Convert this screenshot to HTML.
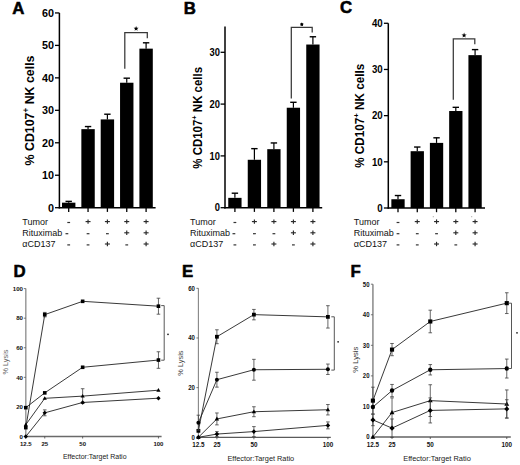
<!DOCTYPE html>
<html><head><meta charset="utf-8"><style>
html,body{margin:0;padding:0;background:#fff;}
svg{display:block;font-family:"Liberation Sans", sans-serif;}
</style></head><body>
<svg width="520" height="465" viewBox="0 0 520 465">
<rect width="520" height="465" fill="#fff"/>
<text x="12.30" y="13.60" font-size="16.8" font-weight="bold" text-anchor="start" fill="#000" stroke="#000" stroke-width="0.55">A</text>
<line x1="59.40" y1="12.94" x2="59.40" y2="208.40" stroke="#000" stroke-width="1.5" />
<line x1="55.00" y1="207.70" x2="59.40" y2="207.70" stroke="#000" stroke-width="1.3" />
<text transform="translate(54.00,211.53) scale(1.0,1)" font-size="10.8" font-weight="bold" text-anchor="end">0</text>
<line x1="55.00" y1="175.24" x2="59.40" y2="175.24" stroke="#000" stroke-width="1.3" />
<text transform="translate(54.00,179.07) scale(1.0,1)" font-size="10.8" font-weight="bold" text-anchor="end">10</text>
<line x1="55.00" y1="142.78" x2="59.40" y2="142.78" stroke="#000" stroke-width="1.3" />
<text transform="translate(54.00,146.61) scale(1.0,1)" font-size="10.8" font-weight="bold" text-anchor="end">20</text>
<line x1="55.00" y1="110.32" x2="59.40" y2="110.32" stroke="#000" stroke-width="1.3" />
<text transform="translate(54.00,114.15) scale(1.0,1)" font-size="10.8" font-weight="bold" text-anchor="end">30</text>
<line x1="55.00" y1="77.86" x2="59.40" y2="77.86" stroke="#000" stroke-width="1.3" />
<text transform="translate(54.00,81.69) scale(1.0,1)" font-size="10.8" font-weight="bold" text-anchor="end">40</text>
<line x1="55.00" y1="45.40" x2="59.40" y2="45.40" stroke="#000" stroke-width="1.3" />
<text transform="translate(54.00,49.23) scale(1.0,1)" font-size="10.8" font-weight="bold" text-anchor="end">50</text>
<line x1="55.00" y1="12.94" x2="59.40" y2="12.94" stroke="#000" stroke-width="1.3" />
<text transform="translate(54.00,16.77) scale(1.0,1)" font-size="10.8" font-weight="bold" text-anchor="end">60</text>
<line x1="58.70" y1="207.70" x2="155.60" y2="207.70" stroke="#000" stroke-width="1.5" />
<line x1="68.70" y1="201.37" x2="68.70" y2="202.67" stroke="#000" stroke-width="1.2" />
<line x1="65.50" y1="201.37" x2="71.90" y2="201.37" stroke="#000" stroke-width="1.4" />
<rect x="62.00" y="202.67" width="13.40" height="5.03" fill="#000"/>
<line x1="68.70" y1="207.70" x2="68.70" y2="211.90" stroke="#000" stroke-width="1.3" />
<line x1="88.05" y1="126.55" x2="88.05" y2="129.15" stroke="#000" stroke-width="1.2" />
<line x1="84.85" y1="126.55" x2="91.25" y2="126.55" stroke="#000" stroke-width="1.4" />
<rect x="81.35" y="129.15" width="13.40" height="78.55" fill="#000"/>
<line x1="88.05" y1="207.70" x2="88.05" y2="211.90" stroke="#000" stroke-width="1.3" />
<line x1="107.40" y1="114.22" x2="107.40" y2="119.41" stroke="#000" stroke-width="1.2" />
<line x1="104.20" y1="114.22" x2="110.60" y2="114.22" stroke="#000" stroke-width="1.4" />
<rect x="100.70" y="119.41" width="13.40" height="88.29" fill="#000"/>
<line x1="107.40" y1="207.70" x2="107.40" y2="211.90" stroke="#000" stroke-width="1.3" />
<line x1="126.75" y1="78.18" x2="126.75" y2="82.73" stroke="#000" stroke-width="1.2" />
<line x1="123.55" y1="78.18" x2="129.95" y2="78.18" stroke="#000" stroke-width="1.4" />
<rect x="120.05" y="82.73" width="13.40" height="124.97" fill="#000"/>
<line x1="126.75" y1="207.70" x2="126.75" y2="211.90" stroke="#000" stroke-width="1.3" />
<line x1="146.10" y1="42.80" x2="146.10" y2="48.65" stroke="#000" stroke-width="1.2" />
<line x1="142.90" y1="42.80" x2="149.30" y2="42.80" stroke="#000" stroke-width="1.4" />
<rect x="139.40" y="48.65" width="13.40" height="159.05" fill="#000"/>
<line x1="146.10" y1="207.70" x2="146.10" y2="211.90" stroke="#000" stroke-width="1.3" />
<polyline points="124.8,68.7 124.8,32.6 147.3,32.6 147.3,38.3" fill="none" stroke="#383838" stroke-width="1.25"/>
<polygon points="136.10,26.00 136.75,27.71 138.57,27.80 137.15,28.94 137.63,30.70 136.10,29.70 134.57,30.70 135.05,28.94 133.63,27.80 135.45,27.71" fill="#000"/>
<text transform="translate(33.6,110.5) rotate(-90)" font-size="13.0" font-weight="bold" text-anchor="middle" textLength="110.0" lengthAdjust="spacingAndGlyphs">% CD107<tspan font-size="8.45" dy="-4.94">+</tspan><tspan dy="4.94"> NK cells</tspan></text>
<text x="22.30" y="224.70" font-size="9" font-weight="normal" text-anchor="start" fill="#111" >Tumor</text>
<line x1="67.30" y1="222.50" x2="70.10" y2="222.50" stroke="#333" stroke-width="1.2" />
<line x1="85.55" y1="221.60" x2="90.55" y2="221.60" stroke="#2a2a2a" stroke-width="1.15" />
<line x1="88.05" y1="219.40" x2="88.05" y2="223.80" stroke="#2a2a2a" stroke-width="1.15" />
<line x1="104.90" y1="221.60" x2="109.90" y2="221.60" stroke="#2a2a2a" stroke-width="1.15" />
<line x1="107.40" y1="219.40" x2="107.40" y2="223.80" stroke="#2a2a2a" stroke-width="1.15" />
<line x1="124.25" y1="221.60" x2="129.25" y2="221.60" stroke="#2a2a2a" stroke-width="1.15" />
<line x1="126.75" y1="219.40" x2="126.75" y2="223.80" stroke="#2a2a2a" stroke-width="1.15" />
<line x1="143.60" y1="221.60" x2="148.60" y2="221.60" stroke="#2a2a2a" stroke-width="1.15" />
<line x1="146.10" y1="219.40" x2="146.10" y2="223.80" stroke="#2a2a2a" stroke-width="1.15" />
<text x="22.30" y="235.80" font-size="9" font-weight="normal" text-anchor="start" fill="#111" >Rituximab</text>
<line x1="65.50" y1="233.70" x2="68.30" y2="233.70" stroke="#333" stroke-width="1.2" />
<line x1="86.65" y1="233.70" x2="89.45" y2="233.70" stroke="#333" stroke-width="1.2" />
<line x1="106.00" y1="233.70" x2="108.80" y2="233.70" stroke="#333" stroke-width="1.2" />
<line x1="124.25" y1="232.80" x2="129.25" y2="232.80" stroke="#2a2a2a" stroke-width="1.15" />
<line x1="126.75" y1="230.60" x2="126.75" y2="235.00" stroke="#2a2a2a" stroke-width="1.15" />
<line x1="143.60" y1="232.80" x2="148.60" y2="232.80" stroke="#2a2a2a" stroke-width="1.15" />
<line x1="146.10" y1="230.60" x2="146.10" y2="235.00" stroke="#2a2a2a" stroke-width="1.15" />
<text x="22.30" y="246.50" font-size="9" font-weight="normal" text-anchor="start" fill="#111" >&#945;CD137</text>
<line x1="67.30" y1="244.90" x2="70.10" y2="244.90" stroke="#333" stroke-width="1.2" />
<line x1="86.65" y1="244.90" x2="89.45" y2="244.90" stroke="#333" stroke-width="1.2" />
<line x1="104.90" y1="244.00" x2="109.90" y2="244.00" stroke="#2a2a2a" stroke-width="1.15" />
<line x1="107.40" y1="241.80" x2="107.40" y2="246.20" stroke="#2a2a2a" stroke-width="1.15" />
<line x1="125.35" y1="244.90" x2="128.15" y2="244.90" stroke="#333" stroke-width="1.2" />
<line x1="143.60" y1="244.00" x2="148.60" y2="244.00" stroke="#2a2a2a" stroke-width="1.15" />
<line x1="146.10" y1="241.80" x2="146.10" y2="246.20" stroke="#2a2a2a" stroke-width="1.15" />
<text x="183.80" y="13.50" font-size="16.8" font-weight="bold" text-anchor="start" fill="#000" stroke="#000" stroke-width="0.55">B</text>
<line x1="225.00" y1="26.40" x2="225.00" y2="208.40" stroke="#000" stroke-width="1.5" />
<line x1="220.60" y1="207.70" x2="225.00" y2="207.70" stroke="#000" stroke-width="1.3" />
<text transform="translate(219.90,211.39) scale(0.9,1)" font-size="10.4" font-weight="bold" text-anchor="end">0</text>
<line x1="220.60" y1="155.90" x2="225.00" y2="155.90" stroke="#000" stroke-width="1.3" />
<text transform="translate(219.90,159.59) scale(0.9,1)" font-size="10.4" font-weight="bold" text-anchor="end">10</text>
<line x1="220.60" y1="104.10" x2="225.00" y2="104.10" stroke="#000" stroke-width="1.3" />
<text transform="translate(219.90,107.79) scale(0.9,1)" font-size="10.4" font-weight="bold" text-anchor="end">20</text>
<line x1="220.60" y1="52.30" x2="225.00" y2="52.30" stroke="#000" stroke-width="1.3" />
<text transform="translate(219.90,55.99) scale(0.9,1)" font-size="10.4" font-weight="bold" text-anchor="end">30</text>
<line x1="224.30" y1="207.70" x2="322.20" y2="207.70" stroke="#000" stroke-width="1.5" />
<line x1="234.90" y1="193.20" x2="234.90" y2="197.86" stroke="#000" stroke-width="1.2" />
<line x1="231.70" y1="193.20" x2="238.10" y2="193.20" stroke="#000" stroke-width="1.4" />
<rect x="228.25" y="197.86" width="13.30" height="9.84" fill="#000"/>
<line x1="234.90" y1="207.70" x2="234.90" y2="211.90" stroke="#000" stroke-width="1.3" />
<line x1="254.40" y1="148.65" x2="254.40" y2="159.78" stroke="#000" stroke-width="1.2" />
<line x1="251.20" y1="148.65" x2="257.60" y2="148.65" stroke="#000" stroke-width="1.4" />
<rect x="247.75" y="159.78" width="13.30" height="47.91" fill="#000"/>
<line x1="254.40" y1="207.70" x2="254.40" y2="211.90" stroke="#000" stroke-width="1.3" />
<line x1="273.90" y1="142.95" x2="273.90" y2="149.17" stroke="#000" stroke-width="1.2" />
<line x1="270.70" y1="142.95" x2="277.10" y2="142.95" stroke="#000" stroke-width="1.4" />
<rect x="267.25" y="149.17" width="13.30" height="58.53" fill="#000"/>
<line x1="273.90" y1="207.70" x2="273.90" y2="211.90" stroke="#000" stroke-width="1.3" />
<line x1="293.40" y1="102.29" x2="293.40" y2="107.73" stroke="#000" stroke-width="1.2" />
<line x1="290.20" y1="102.29" x2="296.60" y2="102.29" stroke="#000" stroke-width="1.4" />
<rect x="286.75" y="107.73" width="13.30" height="99.97" fill="#000"/>
<line x1="293.40" y1="207.70" x2="293.40" y2="211.90" stroke="#000" stroke-width="1.3" />
<line x1="312.90" y1="36.76" x2="312.90" y2="44.53" stroke="#000" stroke-width="1.2" />
<line x1="309.70" y1="36.76" x2="316.10" y2="36.76" stroke="#000" stroke-width="1.4" />
<rect x="306.25" y="44.53" width="13.30" height="163.17" fill="#000"/>
<line x1="312.90" y1="207.70" x2="312.90" y2="211.90" stroke="#000" stroke-width="1.3" />
<polyline points="291.3,98.5 291.3,27.4 312.2,27.4 312.2,32.5" fill="none" stroke="#383838" stroke-width="1.25"/>
<polygon points="301.80,22.50 302.56,23.35 303.61,23.81 303.04,24.80 302.92,25.94 301.80,25.70 300.68,25.94 300.56,24.80 299.99,23.81 301.04,23.35" fill="#000"/>
<text transform="translate(201.7,117.8) rotate(-90)" font-size="12.3" font-weight="bold" text-anchor="middle" textLength="101.7" lengthAdjust="spacingAndGlyphs">% CD107<tspan font-size="8.00" dy="-4.67">+</tspan><tspan dy="4.67"> NK cells</tspan></text>
<text x="190.00" y="224.70" font-size="9" font-weight="normal" text-anchor="start" fill="#111" >Tumor</text>
<line x1="233.50" y1="222.50" x2="236.30" y2="222.50" stroke="#333" stroke-width="1.2" />
<line x1="251.90" y1="221.60" x2="256.90" y2="221.60" stroke="#2a2a2a" stroke-width="1.15" />
<line x1="254.40" y1="219.40" x2="254.40" y2="223.80" stroke="#2a2a2a" stroke-width="1.15" />
<line x1="271.40" y1="221.60" x2="276.40" y2="221.60" stroke="#2a2a2a" stroke-width="1.15" />
<line x1="273.90" y1="219.40" x2="273.90" y2="223.80" stroke="#2a2a2a" stroke-width="1.15" />
<line x1="290.90" y1="221.60" x2="295.90" y2="221.60" stroke="#2a2a2a" stroke-width="1.15" />
<line x1="293.40" y1="219.40" x2="293.40" y2="223.80" stroke="#2a2a2a" stroke-width="1.15" />
<line x1="310.40" y1="221.60" x2="315.40" y2="221.60" stroke="#2a2a2a" stroke-width="1.15" />
<line x1="312.90" y1="219.40" x2="312.90" y2="223.80" stroke="#2a2a2a" stroke-width="1.15" />
<text x="190.00" y="235.80" font-size="9" font-weight="normal" text-anchor="start" fill="#111" >Rituximab</text>
<line x1="232.50" y1="233.70" x2="235.30" y2="233.70" stroke="#333" stroke-width="1.2" />
<line x1="253.00" y1="233.70" x2="255.80" y2="233.70" stroke="#333" stroke-width="1.2" />
<line x1="272.50" y1="233.70" x2="275.30" y2="233.70" stroke="#333" stroke-width="1.2" />
<line x1="290.90" y1="232.80" x2="295.90" y2="232.80" stroke="#2a2a2a" stroke-width="1.15" />
<line x1="293.40" y1="230.60" x2="293.40" y2="235.00" stroke="#2a2a2a" stroke-width="1.15" />
<line x1="310.40" y1="232.80" x2="315.40" y2="232.80" stroke="#2a2a2a" stroke-width="1.15" />
<line x1="312.90" y1="230.60" x2="312.90" y2="235.00" stroke="#2a2a2a" stroke-width="1.15" />
<text x="190.00" y="246.50" font-size="9" font-weight="normal" text-anchor="start" fill="#111" >&#945;CD137</text>
<line x1="233.50" y1="244.90" x2="236.30" y2="244.90" stroke="#333" stroke-width="1.2" />
<line x1="253.00" y1="244.90" x2="255.80" y2="244.90" stroke="#333" stroke-width="1.2" />
<line x1="271.40" y1="244.00" x2="276.40" y2="244.00" stroke="#2a2a2a" stroke-width="1.15" />
<line x1="273.90" y1="241.80" x2="273.90" y2="246.20" stroke="#2a2a2a" stroke-width="1.15" />
<line x1="292.00" y1="244.90" x2="294.80" y2="244.90" stroke="#333" stroke-width="1.2" />
<line x1="310.40" y1="244.00" x2="315.40" y2="244.00" stroke="#2a2a2a" stroke-width="1.15" />
<line x1="312.90" y1="241.80" x2="312.90" y2="246.20" stroke="#2a2a2a" stroke-width="1.15" />
<text x="340.10" y="13.10" font-size="16.8" font-weight="bold" text-anchor="start" fill="#000" stroke="#000" stroke-width="0.55">C</text>
<line x1="388.30" y1="23.28" x2="388.30" y2="208.70" stroke="#000" stroke-width="1.5" />
<line x1="383.90" y1="208.00" x2="388.30" y2="208.00" stroke="#000" stroke-width="1.3" />
<text transform="translate(382.70,211.69) scale(0.93,1)" font-size="10.4" font-weight="bold" text-anchor="end">0</text>
<line x1="383.90" y1="161.82" x2="388.30" y2="161.82" stroke="#000" stroke-width="1.3" />
<text transform="translate(382.70,165.51) scale(0.93,1)" font-size="10.4" font-weight="bold" text-anchor="end">10</text>
<line x1="383.90" y1="115.64" x2="388.30" y2="115.64" stroke="#000" stroke-width="1.3" />
<text transform="translate(382.70,119.33) scale(0.93,1)" font-size="10.4" font-weight="bold" text-anchor="end">20</text>
<line x1="383.90" y1="69.46" x2="388.30" y2="69.46" stroke="#000" stroke-width="1.3" />
<text transform="translate(382.70,73.15) scale(0.93,1)" font-size="10.4" font-weight="bold" text-anchor="end">30</text>
<line x1="383.90" y1="23.28" x2="388.30" y2="23.28" stroke="#000" stroke-width="1.3" />
<text transform="translate(382.70,26.97) scale(0.93,1)" font-size="10.4" font-weight="bold" text-anchor="end">40</text>
<line x1="387.60" y1="208.00" x2="485.00" y2="208.00" stroke="#000" stroke-width="1.5" />
<line x1="398.00" y1="195.53" x2="398.00" y2="199.23" stroke="#000" stroke-width="1.2" />
<line x1="394.80" y1="195.53" x2="401.20" y2="195.53" stroke="#000" stroke-width="1.4" />
<rect x="391.35" y="199.23" width="13.30" height="8.77" fill="#000"/>
<line x1="398.00" y1="208.00" x2="398.00" y2="212.20" stroke="#000" stroke-width="1.3" />
<line x1="417.27" y1="147.04" x2="417.27" y2="151.20" stroke="#000" stroke-width="1.2" />
<line x1="414.07" y1="147.04" x2="420.47" y2="147.04" stroke="#000" stroke-width="1.4" />
<rect x="410.62" y="151.20" width="13.30" height="56.80" fill="#000"/>
<line x1="417.27" y1="208.00" x2="417.27" y2="212.20" stroke="#000" stroke-width="1.3" />
<line x1="436.54" y1="137.81" x2="436.54" y2="142.89" stroke="#000" stroke-width="1.2" />
<line x1="433.34" y1="137.81" x2="439.74" y2="137.81" stroke="#000" stroke-width="1.4" />
<rect x="429.89" y="142.89" width="13.30" height="65.11" fill="#000"/>
<line x1="436.54" y1="208.00" x2="436.54" y2="212.20" stroke="#000" stroke-width="1.3" />
<line x1="455.81" y1="107.33" x2="455.81" y2="111.02" stroke="#000" stroke-width="1.2" />
<line x1="452.61" y1="107.33" x2="459.01" y2="107.33" stroke="#000" stroke-width="1.4" />
<rect x="449.16" y="111.02" width="13.30" height="96.98" fill="#000"/>
<line x1="455.81" y1="208.00" x2="455.81" y2="212.20" stroke="#000" stroke-width="1.3" />
<line x1="475.08" y1="49.60" x2="475.08" y2="55.14" stroke="#000" stroke-width="1.2" />
<line x1="471.88" y1="49.60" x2="478.28" y2="49.60" stroke="#000" stroke-width="1.4" />
<rect x="468.43" y="55.14" width="13.30" height="152.86" fill="#000"/>
<line x1="475.08" y1="208.00" x2="475.08" y2="212.20" stroke="#000" stroke-width="1.3" />
<polyline points="453.3,99.8 453.3,38.9 474.8,38.9 474.8,44.2" fill="none" stroke="#383838" stroke-width="1.25"/>
<polygon points="464.10,32.60 464.75,34.41 466.67,34.47 465.15,35.64 465.69,37.48 464.10,36.40 462.51,37.48 463.05,35.64 461.53,34.47 463.45,34.41" fill="#000"/>
<text transform="translate(363.7,115.8) rotate(-90)" font-size="12.0" font-weight="bold" text-anchor="middle" textLength="104.0" lengthAdjust="spacingAndGlyphs">% CD107<tspan font-size="7.80" dy="-4.56">+</tspan><tspan dy="4.56"> NK cells</tspan></text>
<text x="353.80" y="224.70" font-size="9" font-weight="normal" text-anchor="start" fill="#111" >Tumor</text>
<line x1="396.60" y1="222.50" x2="399.40" y2="222.50" stroke="#333" stroke-width="1.2" />
<line x1="414.77" y1="221.60" x2="419.77" y2="221.60" stroke="#2a2a2a" stroke-width="1.15" />
<line x1="417.27" y1="219.40" x2="417.27" y2="223.80" stroke="#2a2a2a" stroke-width="1.15" />
<line x1="434.04" y1="221.60" x2="439.04" y2="221.60" stroke="#2a2a2a" stroke-width="1.15" />
<line x1="436.54" y1="219.40" x2="436.54" y2="223.80" stroke="#2a2a2a" stroke-width="1.15" />
<line x1="453.31" y1="221.60" x2="458.31" y2="221.60" stroke="#2a2a2a" stroke-width="1.15" />
<line x1="455.81" y1="219.40" x2="455.81" y2="223.80" stroke="#2a2a2a" stroke-width="1.15" />
<line x1="472.58" y1="221.60" x2="477.58" y2="221.60" stroke="#2a2a2a" stroke-width="1.15" />
<line x1="475.08" y1="219.40" x2="475.08" y2="223.80" stroke="#2a2a2a" stroke-width="1.15" />
<text x="353.80" y="235.80" font-size="9" font-weight="normal" text-anchor="start" fill="#111" >Rituximab</text>
<line x1="396.60" y1="233.70" x2="399.40" y2="233.70" stroke="#333" stroke-width="1.2" />
<line x1="415.87" y1="233.70" x2="418.67" y2="233.70" stroke="#333" stroke-width="1.2" />
<line x1="435.14" y1="233.70" x2="437.94" y2="233.70" stroke="#333" stroke-width="1.2" />
<line x1="453.31" y1="232.80" x2="458.31" y2="232.80" stroke="#2a2a2a" stroke-width="1.15" />
<line x1="455.81" y1="230.60" x2="455.81" y2="235.00" stroke="#2a2a2a" stroke-width="1.15" />
<line x1="472.58" y1="232.80" x2="477.58" y2="232.80" stroke="#2a2a2a" stroke-width="1.15" />
<line x1="475.08" y1="230.60" x2="475.08" y2="235.00" stroke="#2a2a2a" stroke-width="1.15" />
<text x="353.80" y="246.50" font-size="9" font-weight="normal" text-anchor="start" fill="#111" >&#945;CD137</text>
<line x1="396.60" y1="244.90" x2="399.40" y2="244.90" stroke="#333" stroke-width="1.2" />
<line x1="415.87" y1="244.90" x2="418.67" y2="244.90" stroke="#333" stroke-width="1.2" />
<line x1="434.04" y1="244.00" x2="439.04" y2="244.00" stroke="#2a2a2a" stroke-width="1.15" />
<line x1="436.54" y1="241.80" x2="436.54" y2="246.20" stroke="#2a2a2a" stroke-width="1.15" />
<line x1="454.41" y1="244.90" x2="457.21" y2="244.90" stroke="#333" stroke-width="1.2" />
<line x1="472.58" y1="244.00" x2="477.58" y2="244.00" stroke="#2a2a2a" stroke-width="1.15" />
<line x1="475.08" y1="241.80" x2="475.08" y2="246.20" stroke="#2a2a2a" stroke-width="1.15" />
<circle cx="433.3" cy="216.7" r="0.6" fill="#aaa"/>
<circle cx="471.7" cy="216.7" r="0.6" fill="#aaa"/>
<text x="13.40" y="276.50" font-size="16.8" font-weight="bold" text-anchor="start" fill="#000" stroke="#000" stroke-width="0.55">D</text>
<line x1="25.80" y1="288.60" x2="25.80" y2="436.50" stroke="#9a9a9a" stroke-width="1.5" />
<line x1="23.80" y1="436.50" x2="25.80" y2="436.50" stroke="#555" stroke-width="0.8" />
<text transform="translate(23.00,438.70) scale(1.0,1)" font-size="6.1" font-weight="bold" text-anchor="end" fill="#111">0</text>
<line x1="23.80" y1="406.92" x2="25.80" y2="406.92" stroke="#555" stroke-width="0.8" />
<text transform="translate(23.00,409.12) scale(1.0,1)" font-size="6.1" font-weight="bold" text-anchor="end" fill="#111">20</text>
<line x1="23.80" y1="377.34" x2="25.80" y2="377.34" stroke="#555" stroke-width="0.8" />
<text transform="translate(23.00,379.54) scale(1.0,1)" font-size="6.1" font-weight="bold" text-anchor="end" fill="#111">40</text>
<line x1="23.80" y1="347.76" x2="25.80" y2="347.76" stroke="#555" stroke-width="0.8" />
<text transform="translate(23.00,349.96) scale(1.0,1)" font-size="6.1" font-weight="bold" text-anchor="end" fill="#111">60</text>
<line x1="23.80" y1="318.18" x2="25.80" y2="318.18" stroke="#555" stroke-width="0.8" />
<text transform="translate(23.00,320.38) scale(1.0,1)" font-size="6.1" font-weight="bold" text-anchor="end" fill="#111">80</text>
<line x1="23.80" y1="288.60" x2="25.80" y2="288.60" stroke="#555" stroke-width="0.8" />
<text transform="translate(23.00,290.80) scale(1.0,1)" font-size="6.1" font-weight="bold" text-anchor="end" fill="#111">100</text>
<line x1="25.80" y1="436.50" x2="161.60" y2="436.50" stroke="#6a6a6a" stroke-width="1.4" />
<line x1="25.80" y1="436.50" x2="25.80" y2="438.50" stroke="#444" stroke-width="0.8" />
<text x="25.80" y="445.50" font-size="6.0" font-weight="bold" text-anchor="middle" fill="#111" >12.5</text>
<line x1="44.75" y1="436.50" x2="44.75" y2="438.50" stroke="#444" stroke-width="0.8" />
<text x="44.75" y="445.50" font-size="6.0" font-weight="bold" text-anchor="middle" fill="#111" >25</text>
<line x1="82.65" y1="436.50" x2="82.65" y2="438.50" stroke="#444" stroke-width="0.8" />
<text x="82.65" y="445.50" font-size="6.0" font-weight="bold" text-anchor="middle" fill="#111" >50</text>
<line x1="158.45" y1="436.50" x2="158.45" y2="438.50" stroke="#444" stroke-width="0.8" />
<text x="158.45" y="445.50" font-size="6.0" font-weight="bold" text-anchor="middle" fill="#111" >100</text>
<polyline points="25.80,427.63 44.75,314.63 82.65,301.32 158.45,306.20" fill="none" stroke="#222" stroke-width="0.9"/>
<rect x="24.00" y="425.83" width="3.60" height="3.60" fill="#000"/>
<line x1="44.75" y1="312.41" x2="44.75" y2="316.85" stroke="#404040" stroke-width="0.8" />
<line x1="42.95" y1="312.41" x2="46.55" y2="312.41" stroke="#404040" stroke-width="0.8" />
<line x1="42.95" y1="316.85" x2="46.55" y2="316.85" stroke="#404040" stroke-width="0.8" />
<rect x="42.95" y="312.83" width="3.60" height="3.60" fill="#000"/>
<rect x="80.85" y="299.52" width="3.60" height="3.60" fill="#000"/>
<line x1="158.45" y1="298.21" x2="158.45" y2="314.19" stroke="#404040" stroke-width="0.8" />
<line x1="156.65" y1="298.21" x2="160.25" y2="298.21" stroke="#404040" stroke-width="0.8" />
<line x1="156.65" y1="314.19" x2="160.25" y2="314.19" stroke="#404040" stroke-width="0.8" />
<rect x="156.65" y="304.40" width="3.60" height="3.60" fill="#000"/>
<polyline points="25.80,407.66 44.75,392.87 82.65,367.28 158.45,360.04" fill="none" stroke="#222" stroke-width="0.9"/>
<rect x="24.00" y="405.86" width="3.60" height="3.60" fill="#000"/>
<rect x="42.95" y="391.07" width="3.60" height="3.60" fill="#000"/>
<rect x="80.85" y="365.48" width="3.60" height="3.60" fill="#000"/>
<line x1="158.45" y1="351.75" x2="158.45" y2="368.32" stroke="#404040" stroke-width="0.8" />
<line x1="156.65" y1="351.75" x2="160.25" y2="351.75" stroke="#404040" stroke-width="0.8" />
<line x1="156.65" y1="368.32" x2="160.25" y2="368.32" stroke="#404040" stroke-width="0.8" />
<rect x="156.65" y="358.24" width="3.60" height="3.60" fill="#000"/>
<polyline points="25.80,424.67 44.75,398.34 82.65,396.12 158.45,390.21" fill="none" stroke="#222" stroke-width="0.9"/>
<polygon points="25.80,422.47 27.90,426.17 23.70,426.17" fill="#000"/>
<polygon points="44.75,396.14 46.85,399.84 42.65,399.84" fill="#000"/>
<line x1="82.65" y1="388.73" x2="82.65" y2="403.52" stroke="#404040" stroke-width="0.8" />
<line x1="80.85" y1="388.73" x2="84.45" y2="388.73" stroke="#404040" stroke-width="0.8" />
<line x1="80.85" y1="403.52" x2="84.45" y2="403.52" stroke="#404040" stroke-width="0.8" />
<polygon points="82.65,393.92 84.75,397.62 80.55,397.62" fill="#000"/>
<polygon points="158.45,388.01 160.55,391.71 156.35,391.71" fill="#000"/>
<polyline points="25.80,436.50 44.75,412.84 82.65,402.48 158.45,398.19" fill="none" stroke="#222" stroke-width="0.9"/>
<polygon points="25.80,434.30 28.00,436.50 25.80,438.70 23.60,436.50" fill="#000"/>
<line x1="44.75" y1="409.88" x2="44.75" y2="415.79" stroke="#404040" stroke-width="0.8" />
<line x1="42.95" y1="409.88" x2="46.55" y2="409.88" stroke="#404040" stroke-width="0.8" />
<line x1="42.95" y1="415.79" x2="46.55" y2="415.79" stroke="#404040" stroke-width="0.8" />
<polygon points="44.75,410.64 46.95,412.84 44.75,415.04 42.55,412.84" fill="#000"/>
<polygon points="82.65,400.28 84.85,402.48 82.65,404.68 80.45,402.48" fill="#000"/>
<polygon points="158.45,395.99 160.65,398.19 158.45,400.39 156.25,398.19" fill="#000"/>
<polyline points="161.2,305.6 164.2,305.6 164.2,360.2 161.2,360.2" fill="none" stroke="#444" stroke-width="0.9"/>
<circle cx="168.0" cy="334.3" r="0.9" fill="#222"/>
<text transform="translate(8.3,362.0) rotate(-90)" font-size="7.3" text-anchor="middle" fill="#666">% Lysis</text>
<text x="62.90" y="459.20" font-size="7.0" font-weight="normal" text-anchor="start" fill="#222" >Effector:Target Ratio</text>
<text x="181.90" y="277.00" font-size="16.8" font-weight="bold" text-anchor="start" fill="#000" stroke="#000" stroke-width="0.55">E</text>
<line x1="198.40" y1="288.32" x2="198.40" y2="437.30" stroke="#858585" stroke-width="1.1" />
<line x1="196.40" y1="437.30" x2="198.40" y2="437.30" stroke="#555" stroke-width="0.8" />
<text transform="translate(195.00,439.68) scale(0.92,1)" font-size="6.6" font-weight="bold" text-anchor="end" fill="#111">0</text>
<line x1="196.40" y1="387.64" x2="198.40" y2="387.64" stroke="#555" stroke-width="0.8" />
<text transform="translate(195.00,390.02) scale(0.92,1)" font-size="6.6" font-weight="bold" text-anchor="end" fill="#111">20</text>
<line x1="196.40" y1="337.98" x2="198.40" y2="337.98" stroke="#555" stroke-width="0.8" />
<text transform="translate(195.00,340.36) scale(0.92,1)" font-size="6.6" font-weight="bold" text-anchor="end" fill="#111">40</text>
<line x1="196.40" y1="288.32" x2="198.40" y2="288.32" stroke="#555" stroke-width="0.8" />
<text transform="translate(195.00,290.70) scale(0.92,1)" font-size="6.6" font-weight="bold" text-anchor="end" fill="#111">60</text>
<line x1="198.40" y1="437.30" x2="330.80" y2="437.30" stroke="#5a5a5a" stroke-width="1.2" />
<line x1="198.40" y1="437.30" x2="198.40" y2="439.30" stroke="#444" stroke-width="0.8" />
<text x="198.40" y="447.40" font-size="6.3" font-weight="bold" text-anchor="middle" fill="#111" >12.5</text>
<line x1="216.90" y1="437.30" x2="216.90" y2="439.30" stroke="#444" stroke-width="0.8" />
<text x="216.90" y="447.40" font-size="6.3" font-weight="bold" text-anchor="middle" fill="#111" >25</text>
<line x1="253.90" y1="437.30" x2="253.90" y2="439.30" stroke="#444" stroke-width="0.8" />
<text x="253.90" y="447.40" font-size="6.3" font-weight="bold" text-anchor="middle" fill="#111" >50</text>
<line x1="327.90" y1="437.30" x2="327.90" y2="439.30" stroke="#444" stroke-width="0.8" />
<text x="327.90" y="447.40" font-size="6.3" font-weight="bold" text-anchor="middle" fill="#111" >100</text>
<polyline points="198.40,430.84 216.90,336.74 253.90,314.64 327.90,316.87" fill="none" stroke="#222" stroke-width="0.9"/>
<rect x="196.51" y="428.95" width="3.78" height="3.78" fill="#000"/>
<line x1="216.90" y1="329.79" x2="216.90" y2="343.69" stroke="#404040" stroke-width="0.8" />
<line x1="215.10" y1="329.79" x2="218.70" y2="329.79" stroke="#404040" stroke-width="0.8" />
<line x1="215.10" y1="343.69" x2="218.70" y2="343.69" stroke="#404040" stroke-width="0.8" />
<rect x="215.01" y="334.85" width="3.78" height="3.78" fill="#000"/>
<line x1="253.90" y1="309.43" x2="253.90" y2="319.85" stroke="#404040" stroke-width="0.8" />
<line x1="252.10" y1="309.43" x2="255.70" y2="309.43" stroke="#404040" stroke-width="0.8" />
<line x1="252.10" y1="319.85" x2="255.70" y2="319.85" stroke="#404040" stroke-width="0.8" />
<rect x="252.01" y="312.75" width="3.78" height="3.78" fill="#000"/>
<line x1="327.90" y1="305.70" x2="327.90" y2="328.05" stroke="#404040" stroke-width="0.8" />
<line x1="326.10" y1="305.70" x2="329.70" y2="305.70" stroke="#404040" stroke-width="0.8" />
<line x1="326.10" y1="328.05" x2="329.70" y2="328.05" stroke="#404040" stroke-width="0.8" />
<rect x="326.01" y="314.98" width="3.78" height="3.78" fill="#000"/>
<polyline points="198.40,422.65 216.90,379.69 253.90,369.76 327.90,369.27" fill="none" stroke="#222" stroke-width="0.9"/>
<line x1="198.40" y1="415.20" x2="198.40" y2="430.10" stroke="#404040" stroke-width="0.8" />
<line x1="196.60" y1="415.20" x2="200.20" y2="415.20" stroke="#404040" stroke-width="0.8" />
<line x1="196.60" y1="430.10" x2="200.20" y2="430.10" stroke="#404040" stroke-width="0.8" />
<circle cx="198.40" cy="422.65" r="1.99" fill="#000"/>
<line x1="216.90" y1="372.25" x2="216.90" y2="387.14" stroke="#404040" stroke-width="0.8" />
<line x1="215.10" y1="372.25" x2="218.70" y2="372.25" stroke="#404040" stroke-width="0.8" />
<line x1="215.10" y1="387.14" x2="218.70" y2="387.14" stroke="#404040" stroke-width="0.8" />
<circle cx="216.90" cy="379.69" r="1.99" fill="#000"/>
<line x1="253.90" y1="359.33" x2="253.90" y2="380.19" stroke="#404040" stroke-width="0.8" />
<line x1="252.10" y1="359.33" x2="255.70" y2="359.33" stroke="#404040" stroke-width="0.8" />
<line x1="252.10" y1="380.19" x2="255.70" y2="380.19" stroke="#404040" stroke-width="0.8" />
<circle cx="253.90" cy="369.76" r="1.99" fill="#000"/>
<line x1="327.90" y1="364.05" x2="327.90" y2="374.48" stroke="#404040" stroke-width="0.8" />
<line x1="326.10" y1="364.05" x2="329.70" y2="364.05" stroke="#404040" stroke-width="0.8" />
<line x1="326.10" y1="374.48" x2="329.70" y2="374.48" stroke="#404040" stroke-width="0.8" />
<circle cx="327.90" cy="369.27" r="1.99" fill="#000"/>
<polyline points="198.40,437.30 216.90,418.93 253.90,411.73 327.90,409.74" fill="none" stroke="#222" stroke-width="0.9"/>
<polygon points="198.40,434.99 200.61,438.88 196.19,438.88" fill="#000"/>
<line x1="216.90" y1="412.97" x2="216.90" y2="424.88" stroke="#404040" stroke-width="0.8" />
<line x1="215.10" y1="412.97" x2="218.70" y2="412.97" stroke="#404040" stroke-width="0.8" />
<line x1="215.10" y1="424.88" x2="218.70" y2="424.88" stroke="#404040" stroke-width="0.8" />
<polygon points="216.90,416.62 219.11,420.50 214.69,420.50" fill="#000"/>
<line x1="253.90" y1="406.76" x2="253.90" y2="416.69" stroke="#404040" stroke-width="0.8" />
<line x1="252.10" y1="406.76" x2="255.70" y2="406.76" stroke="#404040" stroke-width="0.8" />
<line x1="252.10" y1="416.69" x2="255.70" y2="416.69" stroke="#404040" stroke-width="0.8" />
<polygon points="253.90,409.42 256.11,413.30 251.69,413.30" fill="#000"/>
<line x1="327.90" y1="404.52" x2="327.90" y2="414.95" stroke="#404040" stroke-width="0.8" />
<line x1="326.10" y1="404.52" x2="329.70" y2="404.52" stroke="#404040" stroke-width="0.8" />
<line x1="326.10" y1="414.95" x2="329.70" y2="414.95" stroke="#404040" stroke-width="0.8" />
<polygon points="327.90,407.43 330.10,411.31 325.69,411.31" fill="#000"/>
<polyline points="198.40,437.30 216.90,434.07 253.90,431.59 327.90,425.38" fill="none" stroke="#222" stroke-width="0.9"/>
<polygon points="198.40,434.99 200.71,437.30 198.40,439.61 196.09,437.30" fill="#000"/>
<line x1="216.90" y1="431.59" x2="216.90" y2="436.56" stroke="#404040" stroke-width="0.8" />
<line x1="215.10" y1="431.59" x2="218.70" y2="431.59" stroke="#404040" stroke-width="0.8" />
<line x1="215.10" y1="436.56" x2="218.70" y2="436.56" stroke="#404040" stroke-width="0.8" />
<polygon points="216.90,431.76 219.21,434.07 216.90,436.38 214.59,434.07" fill="#000"/>
<line x1="253.90" y1="426.62" x2="253.90" y2="436.56" stroke="#404040" stroke-width="0.8" />
<line x1="252.10" y1="426.62" x2="255.70" y2="426.62" stroke="#404040" stroke-width="0.8" />
<line x1="252.10" y1="436.56" x2="255.70" y2="436.56" stroke="#404040" stroke-width="0.8" />
<polygon points="253.90,429.28 256.21,431.59 253.90,433.90 251.59,431.59" fill="#000"/>
<line x1="327.90" y1="421.91" x2="327.90" y2="428.86" stroke="#404040" stroke-width="0.8" />
<line x1="326.10" y1="421.91" x2="329.70" y2="421.91" stroke="#404040" stroke-width="0.8" />
<line x1="326.10" y1="428.86" x2="329.70" y2="428.86" stroke="#404040" stroke-width="0.8" />
<polygon points="327.90,423.07 330.21,425.38 327.90,427.69 325.59,425.38" fill="#000"/>
<polyline points="331.3,316.8 334.3,316.8 334.3,370.1 331.3,370.1" fill="none" stroke="#444" stroke-width="0.9"/>
<circle cx="338.1" cy="341.8" r="0.9" fill="#222"/>
<text transform="translate(183.0,363.1) rotate(-90)" font-size="7.4" text-anchor="middle" fill="#444">% Lysis</text>
<text x="227.40" y="461.00" font-size="7.35" font-weight="normal" text-anchor="start" fill="#222" >Effector:Target Ratio</text>
<text x="350.40" y="276.80" font-size="16.8" font-weight="bold" text-anchor="start" fill="#000" stroke="#000" stroke-width="0.55">F</text>
<line x1="372.90" y1="284.20" x2="372.90" y2="437.00" stroke="#9c9c9c" stroke-width="1.8" />
<line x1="370.90" y1="437.00" x2="372.90" y2="437.00" stroke="#555" stroke-width="0.8" />
<text transform="translate(369.50,439.48) scale(0.87,1)" font-size="6.9" font-weight="bold" text-anchor="end" fill="#111">0</text>
<line x1="370.90" y1="406.44" x2="372.90" y2="406.44" stroke="#555" stroke-width="0.8" />
<text transform="translate(369.50,408.92) scale(0.87,1)" font-size="6.9" font-weight="bold" text-anchor="end" fill="#111">10</text>
<line x1="370.90" y1="375.88" x2="372.90" y2="375.88" stroke="#555" stroke-width="0.8" />
<text transform="translate(369.50,378.36) scale(0.87,1)" font-size="6.9" font-weight="bold" text-anchor="end" fill="#111">20</text>
<line x1="370.90" y1="345.32" x2="372.90" y2="345.32" stroke="#555" stroke-width="0.8" />
<text transform="translate(369.50,347.80) scale(0.87,1)" font-size="6.9" font-weight="bold" text-anchor="end" fill="#111">30</text>
<line x1="370.90" y1="314.76" x2="372.90" y2="314.76" stroke="#555" stroke-width="0.8" />
<text transform="translate(369.50,317.24) scale(0.87,1)" font-size="6.9" font-weight="bold" text-anchor="end" fill="#111">40</text>
<line x1="370.90" y1="284.20" x2="372.90" y2="284.20" stroke="#555" stroke-width="0.8" />
<text transform="translate(369.50,286.68) scale(0.87,1)" font-size="6.9" font-weight="bold" text-anchor="end" fill="#111">50</text>
<line x1="372.90" y1="437.00" x2="510.80" y2="437.00" stroke="#8a8a8a" stroke-width="2.0" />
<line x1="372.90" y1="437.00" x2="372.90" y2="439.00" stroke="#444" stroke-width="0.8" />
<text x="372.90" y="446.80" font-size="6.3" font-weight="bold" text-anchor="middle" fill="#111" >12.5</text>
<line x1="392.02" y1="437.00" x2="392.02" y2="439.00" stroke="#444" stroke-width="0.8" />
<text x="392.02" y="446.80" font-size="6.3" font-weight="bold" text-anchor="middle" fill="#111" >25</text>
<line x1="430.27" y1="437.00" x2="430.27" y2="439.00" stroke="#444" stroke-width="0.8" />
<text x="430.27" y="446.80" font-size="6.3" font-weight="bold" text-anchor="middle" fill="#111" >50</text>
<line x1="506.77" y1="437.00" x2="506.77" y2="439.00" stroke="#444" stroke-width="0.8" />
<text x="506.77" y="446.80" font-size="6.3" font-weight="bold" text-anchor="middle" fill="#111" >100</text>
<polyline points="372.90,400.63 392.02,349.60 430.27,321.48 506.77,303.15" fill="none" stroke="#222" stroke-width="0.9"/>
<line x1="372.90" y1="387.19" x2="372.90" y2="414.08" stroke="#404040" stroke-width="0.8" />
<line x1="371.10" y1="387.19" x2="374.70" y2="387.19" stroke="#404040" stroke-width="0.8" />
<line x1="371.10" y1="414.08" x2="374.70" y2="414.08" stroke="#404040" stroke-width="0.8" />
<rect x="370.83" y="398.56" width="4.14" height="4.14" fill="#000"/>
<line x1="392.02" y1="343.49" x2="392.02" y2="355.71" stroke="#404040" stroke-width="0.8" />
<line x1="390.22" y1="343.49" x2="393.82" y2="343.49" stroke="#404040" stroke-width="0.8" />
<line x1="390.22" y1="355.71" x2="393.82" y2="355.71" stroke="#404040" stroke-width="0.8" />
<rect x="389.95" y="347.53" width="4.14" height="4.14" fill="#000"/>
<line x1="430.27" y1="310.18" x2="430.27" y2="332.79" stroke="#404040" stroke-width="0.8" />
<line x1="428.47" y1="310.18" x2="432.07" y2="310.18" stroke="#404040" stroke-width="0.8" />
<line x1="428.47" y1="332.79" x2="432.07" y2="332.79" stroke="#404040" stroke-width="0.8" />
<rect x="428.20" y="319.41" width="4.14" height="4.14" fill="#000"/>
<line x1="506.77" y1="292.76" x2="506.77" y2="313.54" stroke="#404040" stroke-width="0.8" />
<line x1="504.97" y1="292.76" x2="508.57" y2="292.76" stroke="#404040" stroke-width="0.8" />
<line x1="504.97" y1="313.54" x2="508.57" y2="313.54" stroke="#404040" stroke-width="0.8" />
<rect x="504.70" y="301.08" width="4.14" height="4.14" fill="#000"/>
<polyline points="372.90,407.05 392.02,390.55 430.27,369.77 506.77,368.55" fill="none" stroke="#222" stroke-width="0.9"/>
<circle cx="372.90" cy="407.05" r="2.18" fill="#000"/>
<line x1="392.02" y1="384.44" x2="392.02" y2="396.66" stroke="#404040" stroke-width="0.8" />
<line x1="390.22" y1="384.44" x2="393.82" y2="384.44" stroke="#404040" stroke-width="0.8" />
<line x1="390.22" y1="396.66" x2="393.82" y2="396.66" stroke="#404040" stroke-width="0.8" />
<circle cx="392.02" cy="390.55" r="2.18" fill="#000"/>
<line x1="430.27" y1="364.57" x2="430.27" y2="374.96" stroke="#404040" stroke-width="0.8" />
<line x1="428.47" y1="364.57" x2="432.07" y2="364.57" stroke="#404040" stroke-width="0.8" />
<line x1="428.47" y1="374.96" x2="432.07" y2="374.96" stroke="#404040" stroke-width="0.8" />
<circle cx="430.27" cy="369.77" r="2.18" fill="#000"/>
<line x1="506.77" y1="359.07" x2="506.77" y2="378.02" stroke="#404040" stroke-width="0.8" />
<line x1="504.97" y1="359.07" x2="508.57" y2="359.07" stroke="#404040" stroke-width="0.8" />
<line x1="504.97" y1="378.02" x2="508.57" y2="378.02" stroke="#404040" stroke-width="0.8" />
<circle cx="506.77" cy="368.55" r="2.18" fill="#000"/>
<polyline points="372.90,437.00 392.02,412.55 430.27,400.63 506.77,404.00" fill="none" stroke="#222" stroke-width="0.9"/>
<polygon points="372.90,434.47 375.31,438.73 370.48,438.73" fill="#000"/>
<line x1="392.02" y1="397.88" x2="392.02" y2="427.22" stroke="#404040" stroke-width="0.8" />
<line x1="390.22" y1="397.88" x2="393.82" y2="397.88" stroke="#404040" stroke-width="0.8" />
<line x1="390.22" y1="427.22" x2="393.82" y2="427.22" stroke="#404040" stroke-width="0.8" />
<polygon points="392.02,410.02 394.44,414.28 389.61,414.28" fill="#000"/>
<line x1="430.27" y1="384.74" x2="430.27" y2="416.52" stroke="#404040" stroke-width="0.8" />
<line x1="428.47" y1="384.74" x2="432.07" y2="384.74" stroke="#404040" stroke-width="0.8" />
<line x1="428.47" y1="416.52" x2="432.07" y2="416.52" stroke="#404040" stroke-width="0.8" />
<polygon points="430.27,398.10 432.69,402.36 427.86,402.36" fill="#000"/>
<line x1="506.77" y1="389.94" x2="506.77" y2="418.05" stroke="#404040" stroke-width="0.8" />
<line x1="504.97" y1="389.94" x2="508.57" y2="389.94" stroke="#404040" stroke-width="0.8" />
<line x1="504.97" y1="418.05" x2="508.57" y2="418.05" stroke="#404040" stroke-width="0.8" />
<polygon points="506.77,401.47 509.19,405.72 504.36,405.72" fill="#000"/>
<polyline points="372.90,419.89 392.02,428.14 430.27,410.41 506.77,408.88" fill="none" stroke="#222" stroke-width="0.9"/>
<line x1="372.90" y1="414.08" x2="372.90" y2="425.69" stroke="#404040" stroke-width="0.8" />
<line x1="371.10" y1="414.08" x2="374.70" y2="414.08" stroke="#404040" stroke-width="0.8" />
<line x1="371.10" y1="425.69" x2="374.70" y2="425.69" stroke="#404040" stroke-width="0.8" />
<polygon points="372.90,417.36 375.43,419.89 372.90,422.42 370.37,419.89" fill="#000"/>
<line x1="392.02" y1="418.97" x2="392.02" y2="437.31" stroke="#404040" stroke-width="0.8" />
<line x1="390.22" y1="418.97" x2="393.82" y2="418.97" stroke="#404040" stroke-width="0.8" />
<line x1="390.22" y1="437.31" x2="393.82" y2="437.31" stroke="#404040" stroke-width="0.8" />
<polygon points="392.02,425.61 394.55,428.14 392.02,430.67 389.50,428.14" fill="#000"/>
<line x1="430.27" y1="397.88" x2="430.27" y2="422.94" stroke="#404040" stroke-width="0.8" />
<line x1="428.47" y1="397.88" x2="432.07" y2="397.88" stroke="#404040" stroke-width="0.8" />
<line x1="428.47" y1="422.94" x2="432.07" y2="422.94" stroke="#404040" stroke-width="0.8" />
<polygon points="430.27,407.88 432.80,410.41 430.27,412.94 427.75,410.41" fill="#000"/>
<line x1="506.77" y1="399.72" x2="506.77" y2="418.05" stroke="#404040" stroke-width="0.8" />
<line x1="504.97" y1="399.72" x2="508.57" y2="399.72" stroke="#404040" stroke-width="0.8" />
<line x1="504.97" y1="418.05" x2="508.57" y2="418.05" stroke="#404040" stroke-width="0.8" />
<polygon points="506.77,406.35 509.30,408.88 506.77,411.41 504.25,408.88" fill="#000"/>
<polyline points="508.5,303.2 511.5,303.2 511.5,368.5 508.5,368.5" fill="none" stroke="#444" stroke-width="0.9"/>
<circle cx="517.0" cy="332.8" r="0.9" fill="#222"/>
<text transform="translate(357.9,359.7) rotate(-90)" font-size="7.6" text-anchor="middle" fill="#333">% Lysis</text>
<text x="403.20" y="460.70" font-size="7.45" font-weight="normal" text-anchor="start" fill="#222" >Effector:Target Ratio</text>
</svg>
</body></html>
